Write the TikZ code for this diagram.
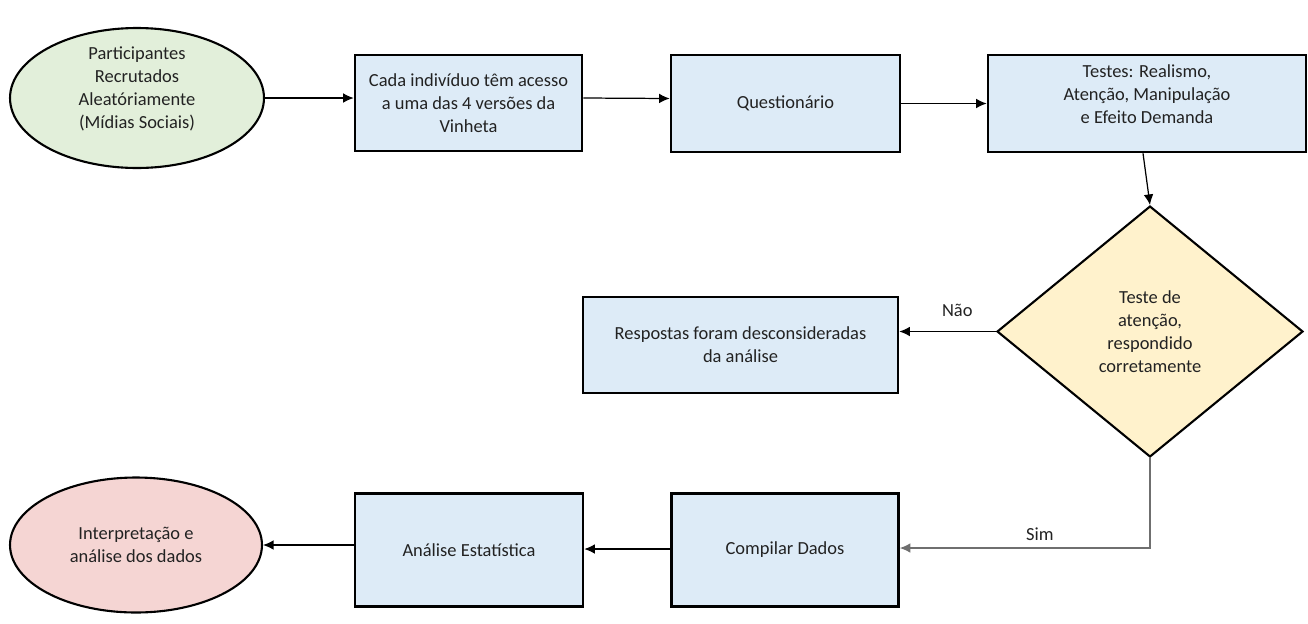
\documentclass[tikz,border=0pt]{standalone}
\usepackage{fontspec}
\setmainfont{Carlito}
\usetikzlibrary{shapes.geometric,arrows.meta}
\definecolor{boxblue}{HTML}{DDEBF7}
\definecolor{startgreen}{HTML}{E2EFDA}
\definecolor{decyellow}{HTML}{FFF2CC}
\definecolor{endred}{HTML}{F5D5D3}
\definecolor{txt}{HTML}{222222}
\definecolor{simgray}{HTML}{6F6F6F}
\tikzset{
  procbox/.style={draw=black, line width=1.5pt, fill=boxblue, rectangle, inner sep=0pt, align=center, text=txt},
  oval/.style={draw=black, line width=1.2pt, ellipse, inner sep=0pt, align=center, text=txt},
  decision/.style={draw=black, line width=1.2pt, diamond, fill=decyellow, inner sep=0pt, align=center, text=txt},
  txtnode/.style={align=center, text=txt, inner sep=0pt},
  conn/.style={line width=0.7pt, -{Latex[length=6pt,width=5.5pt]}},
  lbl/.style={text=txt, inner sep=2pt}
}
\begin{document}
\begin{tikzpicture}[x=0.02cm, y=-0.02cm, font=\fontsize{10.5}{13}\selectfont]
\useasboundingbox (0,0) rectangle (1308,623);
\node[oval, fill=startgreen, minimum width=5.08cm, minimum height=2.80cm] (e1) at (137,98) {};
\node[txtnode] (e1t) at (137,89) {Participantes\\Recrutados\\Aleatóriamente\\(Mídias Sociais)};
\node[procbox, minimum width=4.54cm, minimum height=1.92cm] (b1) at (468.5,103) {Cada indivíduo têm acesso\\a uma das 4 versões da\\Vinheta};
\node[procbox, minimum width=4.58cm, minimum height=1.94cm] (b2) at (785.5,103.5) {Questionário};
\node[procbox, minimum width=6.36cm, minimum height=1.94cm] (b3) at (1147,103.5) {};
\node[txtnode] (b3t) at (1147,94) {Testes: Realismo,\\Atenção, Manipulação\\e Efeito Demanda};
\node[decision, minimum width=6.12cm, minimum height=5.02cm] (d) at (1150,331.5) {Teste de\\atenção,\\respondido\\corretamente};
\node[procbox, minimum width=6.30cm, minimum height=1.92cm] (b4) at (740.5,345) {Respostas foram desconsideradas\\da análise};
\node[procbox, minimum width=4.54cm, minimum height=2.26cm] (b5) at (785,550) {Compilar Dados};
\node[procbox, minimum width=4.56cm, minimum height=2.26cm] (b6) at (469,550) {Análise Estatística};
\node[oval, fill=endred, minimum width=5.04cm, minimum height=2.70cm] (e2) at (136,545) {Interpretação e\\análise dos dados};

\draw[conn] (e1.east) -- (e1.east -| b1.west);
\draw[conn] ([yshift=0.1cm]b1.east) -- ([yshift=0.1cm]b2.west);
\draw[conn] (b2.east) -- (b3.west);
\draw[conn] ([xshift=-0.08cm]b3.south) -- (d.north);
\draw[conn] (d.west) -- (d.west -| b4.east) node[lbl, above, pos=0.4, yshift=6pt] {Não};
\draw[conn, draw=simgray] (d.south) |- ([yshift=0.04cm]b5.east) node[lbl, above, pos=0.72, yshift=2pt] {Sim};
\draw[conn] ([yshift=0.02cm]b5.west) -- ([yshift=0.02cm]b6.east);
\draw[conn] ([yshift=0.1cm]b6.west) -- ([yshift=0.1cm]b6.west -| e2.east);
\end{tikzpicture}
\end{document}
